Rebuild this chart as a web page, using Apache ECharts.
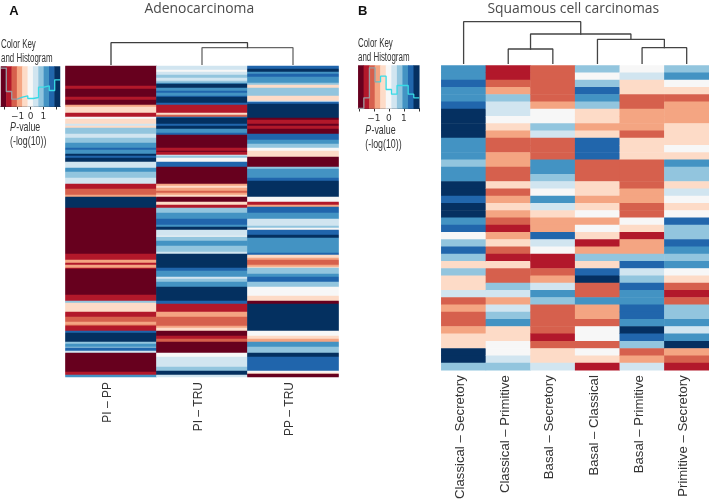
<!DOCTYPE html>
<html><head><meta charset="utf-8">
<style>html,body{margin:0;padding:0;background:#fff}#c{width:709px;height:502px;filter:blur(0.35px)}</style>
<script src="https://cdn.jsdelivr.net/npm/echarts@6/dist/echarts.min.js"></script>
</head><body><div id="c"></div>
<script>
// Colour bins of the key: 0 = darkest red ... 10 = darkest blue
const palette = ['#67001f','#b2182b','#d6604d','#f4a582','#fddbc7','#f7f7f7','#d1e5f0','#92c5de','#4393c3','#2166ac','#053061'];

// Panel A: run-length columns, [colour bin, number of rows]
const adenoCategories = ['PI – PP','PI – TRU','PP – TRU'];
const adenoPIPP = [[0,20],[1,3],[0,8],[1,3],[0,5],[3,2],[4,6],[1,4],[5,2],[4,5],[6,2],[4,2],[7,6],[6,4],[7,5],[8,5],[9,2],[8,4],[10,2],[9,2],[10,4],[6,6],[8,4],[7,6],[6,6],[1,5],[2,6],[3,2],[10,11],[0,46],[1,6],[3,3],[1,2],[3,3],[1,1],[0,26],[1,6],[7,2],[4,9],[1,5],[2,5],[3,3],[2,1],[1,5],[9,2],[10,9],[7,2],[8,3],[7,1],[9,3],[6,2],[0,19],[1,3],[8,2]];
const adenoPITRU = [[6,4],[5,2],[6,3],[7,3],[6,3],[7,2],[8,1],[10,4],[8,3],[9,2],[8,3],[9,1],[10,6],[9,2],[1,8],[4,2],[2,2],[9,1],[10,6],[9,2],[10,3],[8,4],[9,2],[0,13],[1,3],[0,1],[1,3],[6,1],[7,2],[5,4],[9,5],[0,17],[3,2],[4,2],[3,3],[2,2],[3,2],[4,2],[0,5],[4,3],[1,3],[7,5],[8,6],[9,6],[8,2],[10,3],[6,6],[5,1],[7,4],[8,5],[7,6],[6,2],[10,14],[9,3],[8,6],[6,2],[7,3],[8,5],[10,14],[9,3],[1,8],[3,5],[2,9],[3,2],[4,3],[0,5],[1,3],[2,3],[0,11],[5,4],[6,10],[7,4],[10,4],[6,2]];
const adenoPPTRU = [[9,3],[10,3],[8,2],[9,3],[8,6],[7,2],[4,3],[7,8],[4,5],[6,1],[9,2],[10,14],[0,2],[1,4],[0,2],[1,3],[0,5],[9,6],[8,4],[7,4],[5,3],[4,6],[0,10],[7,2],[8,9],[9,3],[10,16],[5,5],[1,3],[3,2],[9,6],[8,6],[6,7],[7,2],[5,2],[9,5],[10,3],[8,15],[9,2],[4,3],[3,2],[2,5],[3,2],[4,1],[7,6],[8,3],[9,5],[7,5],[5,9],[4,5],[0,3],[10,27],[5,5],[4,3],[3,3],[8,5],[7,6],[10,4],[9,14],[5,2],[4,1],[0,3]];

// Panel B: one colour bin per row
const squamousCategories = ['Classical – Secretory','Classical – Primitive','Basal – Secretory','Basal – Classical','Basal – Primitive','Primitive – Secretory'];
const classicalSecretory = [8,8,9,8,8,9,10,10,10,10,8,8,8,7,8,8,10,10,9,10,10,8,9,5,7,9,7,4,7,4,4,6,2,3,2,2,3,4,4,10,10,7];
const classicalPrimitive = [1,1,2,3,7,6,6,5,4,3,2,2,3,3,2,2,4,2,3,4,3,2,1,3,4,2,1,4,2,2,7,6,3,6,7,8,4,4,5,5,6,7];
const basalSecretory = [2,2,2,2,2,3,5,5,7,6,2,2,2,8,8,7,6,5,8,6,4,3,3,9,6,5,1,1,2,3,6,8,7,2,2,2,2,1,2,4,4,6];
const basalClassical = [7,5,7,9,8,7,4,4,3,4,9,9,9,2,2,2,4,4,3,4,5,3,5,4,1,3,7,4,9,10,2,2,8,3,3,2,5,5,2,5,4,1];
const basalPrimitive = [5,6,4,4,2,2,3,3,3,2,4,4,4,2,2,2,2,3,3,2,2,5,4,1,3,3,7,9,6,7,9,8,8,9,9,8,10,9,7,2,3,6];
const primitiveSecretory = [7,8,5,4,2,3,3,3,4,4,4,5,4,8,7,7,4,6,5,4,5,9,7,7,9,8,7,8,5,4,2,1,2,7,7,8,6,8,10,3,2,1];

// Dendrogram links: [left column, left height, right column, right height, join height]
const adenoLinks = [[1,0.7,2,0.7,17.3],[0,0.7,1.5,17.3,22.3]];
const squamousLinks = [[1,1.7,2,1.7,16],[4,1.7,5,1.7,17.3],[3,1.7,4.5,17.3,25.7],[1.5,16,3.75,25.7,31],[0,1.7,2.625,31,43.3]];

// Colour key histograms (counts per colour bin)
const keyBins = [0,1,2,3,4,5,6,7,8,9,10];
const adenoHistEdges = [-2.28,-1.87,-1.45,-1.04,-0.62,-0.21,0.21,0.62,1.04,1.45,1.87,2.28];
const adenoHist = [38.3,15,7.3,9.3,10.7,8,9,19.3,20.7,16,26.7];
const squamousHistEdges = [-2.03,-1.66,-1.29,-0.92,-0.55,-0.18,0.18,0.55,0.92,1.29,1.66,2.03];
const squamousHist = [0,10.7,40.7,26.7,32.3,19,14.3,23,23,14.3,10.7];

const expand = rle => rle.flatMap(([v,n]) => Array(n).fill(v));
const adenoCols = [adenoPIPP,adenoPITRU,adenoPPTRU].map(expand);
const squamousCols = [classicalSecretory,classicalPrimitive,basalSecretory,basalClassical,basalPrimitive,primitiveSecretory];

const grids=[],xAxes=[],yAxes=[],series=[],heatIdx=[];
const hmSeries=(data,ax,ay)=>{heatIdx.push(series.length);series.push({type:'heatmap',xAxisIndex:ax,yAxisIndex:ay,data,progressive:0,silent:true,itemStyle:{borderWidth:0},emphasis:{disabled:true}});};

function addHeat(cols,cats,box,labelMargin,fontSize){
  const g=grids.length;grids.push(box);
  const ax=xAxes.length,ay=yAxes.length;
  xAxes.push({type:'category',gridIndex:g,data:cats,position:'bottom',axisLine:{show:false},axisTick:{show:false},splitLine:{show:false},
    axisLabel:{rotate:90,margin:labelMargin,interval:0,verticalAlign:'bottom',lineHeight:6,fontFamily:'Liberation Sans',fontSize,color:'#333'}});
  yAxes.push({type:'category',gridIndex:g,inverse:true,data:cols[0].map((_,i)=>i),show:false});
  const data=[];cols.forEach((c,x)=>c.forEach((v,y)=>data.push([x,y,v])));
  hmSeries(data,ax,ay);
}
function addDendro(links,n,maxH,box,colors){
  const g=grids.length;grids.push(box);
  const ax=xAxes.length,ay=yAxes.length;
  xAxes.push({type:'value',gridIndex:g,min:-0.5,max:n-0.5,show:false});
  yAxes.push({type:'value',gridIndex:g,min:0,max:maxH,show:false});
  links.forEach((l,i)=>{
    series.push({type:'line',xAxisIndex:ax,yAxisIndex:ay,silent:true,showSymbol:false,symbol:'none',
      lineStyle:{color:colors[i],width:1.3,cap:'square'},
      data:[[l[0],l[1]],[l[0],l[4]],[l[2],l[4]],[l[2],l[3]]]});
  });
}
function addKey(edges,hist,box,tickVals,labelVals,maxY,gray){
  const g=grids.length;grids.push(box);
  const ax=xAxes.length,ay=yAxes.length;
  xAxes.push({type:'category',gridIndex:g,data:keyBins,show:false});
  xAxes.push({type:'value',gridIndex:g,min:edges[0],max:edges[edges.length-1],position:'bottom',
    axisLine:{show:true,onZero:false,lineStyle:{color:'#2a3a4a',width:1}},
    axisTick:{show:true,length:3,lineStyle:{color:'#333'},customValues:tickVals},
    splitLine:{show:false},
    axisLabel:{margin:6,customValues:labelVals,fontFamily:'DejaVu Sans',fontSize:9,color:'#333',hideOverlap:false,
      formatter:v=>v<0?'\u2212'+Math.abs(v):String(v)}});
  yAxes.push({type:'category',gridIndex:g,data:[0],show:false});
  yAxes.push({type:'value',gridIndex:g,min:0,max:maxY,show:false});
  hmSeries(keyBins.map(b=>[b,0,b]),ax,ay);
  series.push({type:'line',xAxisIndex:ax+1,yAxisIndex:ay+1,step:'end',silent:true,showSymbol:false,symbol:'none',z:5,
    lineStyle:{width:1.3,color:{type:'linear',x:0,y:0,x2:1,y2:0,colorStops:[{offset:0,color:'#9a9aa0'},{offset:gray,color:'#9a9aa0'},{offset:gray+0.08,color:'#38dbe6'},{offset:1,color:'#38dbe6'}]}},
    data:edges.map((e,i)=>[e,hist[Math.min(i,hist.length-1)]])});
}

addHeat(adenoCols,adenoCategories,{left:65.5,top:66,width:273,height:311},5,12);
addDendro(adenoLinks,3,25,{left:65.5,top:40,width:273,height:25},['#666','#3d3d3d']);
addKey(adenoHistEdges,adenoHist,{left:1,top:66.5,width:59,height:40},[-2,-1,0,1,2],[-1,0,1],40,0.28);
addHeat(squamousCols,squamousCategories,{left:441.3,top:65.5,width:267.7,height:305.5},5,13.2);
addDendro(squamousLinks,6,45,{left:441.3,top:20,width:267.7,height:45},['#444','#444','#444','#444','#444']);
addKey(squamousHistEdges,squamousHist,{left:358.3,top:65.5,width:61,height:43},[-2,-1,0,1,2],[-1,0,1],43,0.28);

const sansFont='Liberation Sans';
// Condensed text: the installed fonts have no narrow cut, so the run is squeezed horizontally.
const squeezed=(x,y,text,sx,o={})=>({type:'text',x,y,scaleX:sx,originX:0,silent:true,style:{text,fontFamily:sansFont,fontSize:12,fill:'#333',textVerticalAlign:'middle',...o}});
const plain=(x,y,text,o)=>({type:'text',x,y,silent:true,style:{text,textVerticalAlign:'middle',...o}});
const titleStyle={fontFamily:'Open Sans',fontSize:13.9,fill:'#4a4a4a',textAlign:'center'};
const letterStyle={fontFamily:sansFont,fontWeight:'bold',fontSize:13,fill:'#111'};
const panelText=(x,yOff)=>[
  squeezed(x,44.3+yOff,'Color Key',0.66),
  squeezed(x,58.5+yOff,'and Histogram',0.66)
];
const pValue=(x,y1,y2)=>[
  squeezed(x,y1,'P',0.68,{fontStyle:'italic',fontSize:13}),
  squeezed(x+6.2,y1,'-value',0.68,{fontSize:13}),
  squeezed(x,y2,'(-log(10))',0.68,{fontSize:13})
];
const option={
  animation:false,backgroundColor:'#fff',
  grid:grids.map(b=>({...b,containLabel:false})),xAxis:xAxes,yAxis:yAxes,series,
  visualMap:{show:false,type:'continuous',min:0,max:10,dimension:2,seriesIndex:heatIdx,inRange:{color:palette}},
  graphic:[
    plain(199.3,9.5,'Adenocarcinoma',titleStyle),
    plain(573.3,9.5,'Squamous cell carcinomas',titleStyle),
    plain(9.3,11,'A',letterStyle),
    plain(358,11,'B',letterStyle),
    ...panelText(1,0),...panelText(358,-0.8),
    ...pValue(10,127.3,141.7),...pValue(365.3,130,144.3)
  ]
};
const chart=echarts.init(document.getElementById('c'),null,{renderer:'canvas'});
chart.setOption(option);
</script></body></html>
